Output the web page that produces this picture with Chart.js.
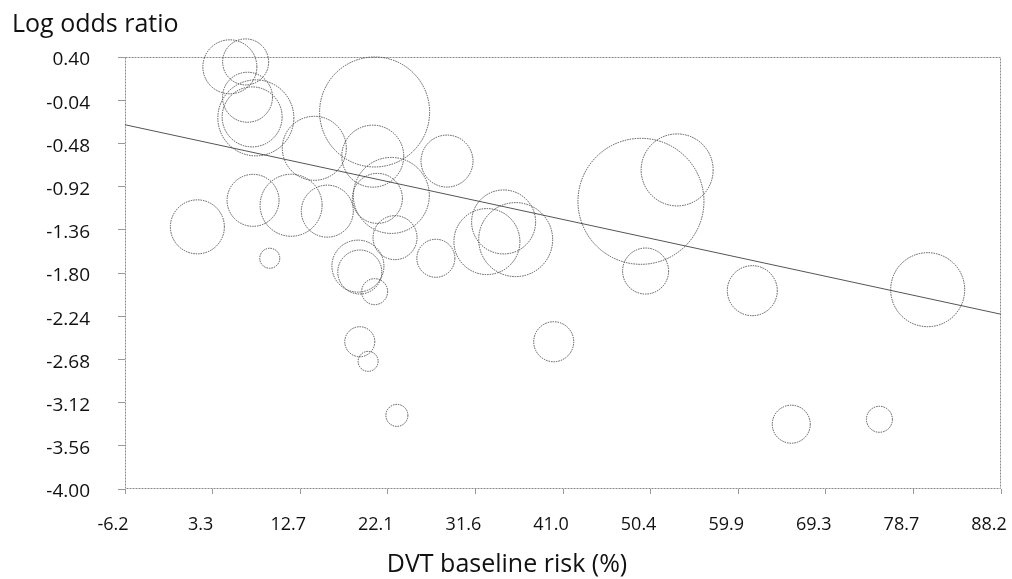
<!DOCTYPE html>
<html>
<head>
<meta charset="utf-8">
<script src="https://cdn.jsdelivr.net/npm/chart.js@4/dist/chart.umd.min.js"></script>
<style>
  html, body { margin: 0; padding: 0; background: #fff; }
  #wrap { width: 1012px; height: 579px; position: relative; }
</style>
</head>
<body>
<div id="wrap"><canvas id="c"></canvas></div>
<script>
// ---- Data ----
const xTickLabels = ['-6.2', '3.3', '12.7', '22.1', '31.6', '41.0', '50.4', '59.9', '69.3', '78.7', '88.2'];
const yTickLabels = ['0.40', '-0.04', '-0.48', '-0.92', '-1.36', '-1.80', '-2.24', '-2.68', '-3.12', '-3.56', '-4.00'];
const xMin = -6.2, xMax = 88.2;
const yMin = -4.0, yMax = 0.40;
const xTitle = 'DVT baseline risk (%)';
const yTitle = 'Log odds ratio';

// DVT baseline risk (%) per study
const baselineRisk = [5.1, 6.8, 7.0, 7.5, 7.9, 20.7, 14.2, 20.5, 28.5, 7.6, 11.7, 15.6, 1.6, 9.4, 22.5, 21.0, 22.9, 18.9, 19.1, 20.7, 27.3, 34.6, 35.9, 32.8, 49.4, 53.3, 49.9, 61.4, 80.3, 40.0, 19.1, 20.0, 23.1, 65.6, 75.1];
// Log odds ratio per study
const logOddsRatio = [0.30, 0.35, -0.01, -0.21, -0.22, -0.16, -0.53, -0.61, -0.66, -1.06, -1.11, -1.17, -1.33, -1.65, -1.01, -1.04, -1.44, -1.73, -1.79, -1.99, -1.65, -1.28, -1.46, -1.48, -1.07, -0.75, -1.78, -1.98, -1.97, -2.50, -2.50, -2.70, -3.25, -3.34, -3.29];
// Study weight (bubble size)
const studyWeight = [27, 23, 25, 30, 38, 55, 32, 31, 26, 26, 31, 26, 27, 10, 38, 25, 22, 26, 22, 13, 19, 32, 37, 33, 63, 36, 23, 25, 37, 20, 15, 10, 11, 19, 13];

// Meta-regression line end points
const regX = [-6.2, 88.2];
const regY = [-0.29, -2.22];

// ---- Build chart ----
const bubbles = baselineRisk.map((x, i) => ({ x: x, y: logOddsRatio[i], r: studyWeight[i] }));
const regLine = regX.map((x, i) => ({ x: x, y: regY[i] }));

const FONT = "'Open Sans', 'Noto Sans', sans-serif";
Chart.defaults.font.family = FONT;
Chart.defaults.color = '#111';

const framePlugin = {
  id: 'frame',
  beforeDatasetsDraw(chart) {
    const { ctx, chartArea: a } = chart;
    ctx.save();
    ctx.strokeStyle = '#8a8a8a';
    ctx.lineWidth = 1;
    ctx.setLineDash([2, 1]);
    ctx.strokeRect(a.left + 0.5, a.top + 0.5, a.right - a.left - 1, a.bottom - a.top - 1);
    ctx.restore();
  },
  beforeDatasetDraw(chart, args) {
    chart.ctx.save();
    if (args.index === 0) chart.ctx.setLineDash([1.5, 1]);
  },
  afterDatasetDraw(chart) {
    chart.ctx.restore();
  },
  afterDraw(chart) {
    const { ctx } = chart;
    ctx.save();
    ctx.fillStyle = '#111';
    ctx.font = '25px ' + FONT;
    ctx.textBaseline = 'middle';
    ctx.textAlign = 'left';
    ctx.fillText(yTitle, 12, 25);
    ctx.textAlign = 'center';
    ctx.fillText(xTitle, 507, 565);
    ctx.restore();
  }
};

new Chart(document.getElementById('c'), {
  type: 'bubble',
  data: {
    datasets: [
      {
        type: 'bubble',
        label: 'Studies',
        data: bubbles,
        backgroundColor: 'rgba(0,0,0,0)',
        borderColor: 'rgba(60,60,60,0.85)',
        borderWidth: 1,
        hoverBorderWidth: 1,
        clip: false
      },
      {
        type: 'line',
        label: 'Regression',
        data: regLine,
        borderColor: '#555',
        borderWidth: 1,
        pointRadius: 0,
        fill: false,
        tension: 0
      }
    ]
  },
  options: {
    responsive: true,
    maintainAspectRatio: false,
    animation: false,
    layout: { autoPadding: false, padding: { top: 57, right: 11, left: 0, bottom: 0 } },
    plugins: { legend: { display: false }, tooltip: { enabled: false }, title: { display: false } },
    scales: {
      x: {
        type: 'linear',
        min: xMin,
        max: xMax,
        afterBuildTicks(scale) {
          scale.ticks = xTickLabels.map((_, i) => ({ value: xMin + i * (xMax - xMin) / (xTickLabels.length - 1) }));
        },
        afterFit(scale) { scale.height = 90; scale.paddingLeft = 0; scale.paddingRight = 0; },
        ticks: {
          autoSkip: false,
          maxRotation: 0,
          padding: 20,
          labelOffset: -12,
          font: { size: 18 },
          color: '#111',
          callback: (v, i) => xTickLabels[i]
        },
        grid: { drawOnChartArea: false, drawTicks: true, tickLength: 5, color: '#999' },
        border: { display: false },
        title: { display: false }
      },
      y: {
        type: 'linear',
        min: yMin,
        max: yMax,
        afterBuildTicks(scale) {
          scale.ticks = yTickLabels.map((_, i) => ({ value: yMax - i * (yMax - yMin) / (yTickLabels.length - 1) }));
        },
        afterFit(scale) { scale.width = 125; scale.paddingTop = 0; scale.paddingBottom = 0; },
        ticks: {
          autoSkip: false,
          padding: 28,
          labelOffset: 3,
          font: { size: 19 },
          color: '#111',
          callback: function (v) {
            const idx = Math.round((yMax - v) / ((yMax - yMin) / (yTickLabels.length - 1)));
            return yTickLabels[idx];
          }
        },
        grid: { drawOnChartArea: false, drawTicks: true, tickLength: 7, color: '#999' },
        border: { display: false }
      }
    }
  },
  plugins: [framePlugin]
});
</script>
</body>
</html>
